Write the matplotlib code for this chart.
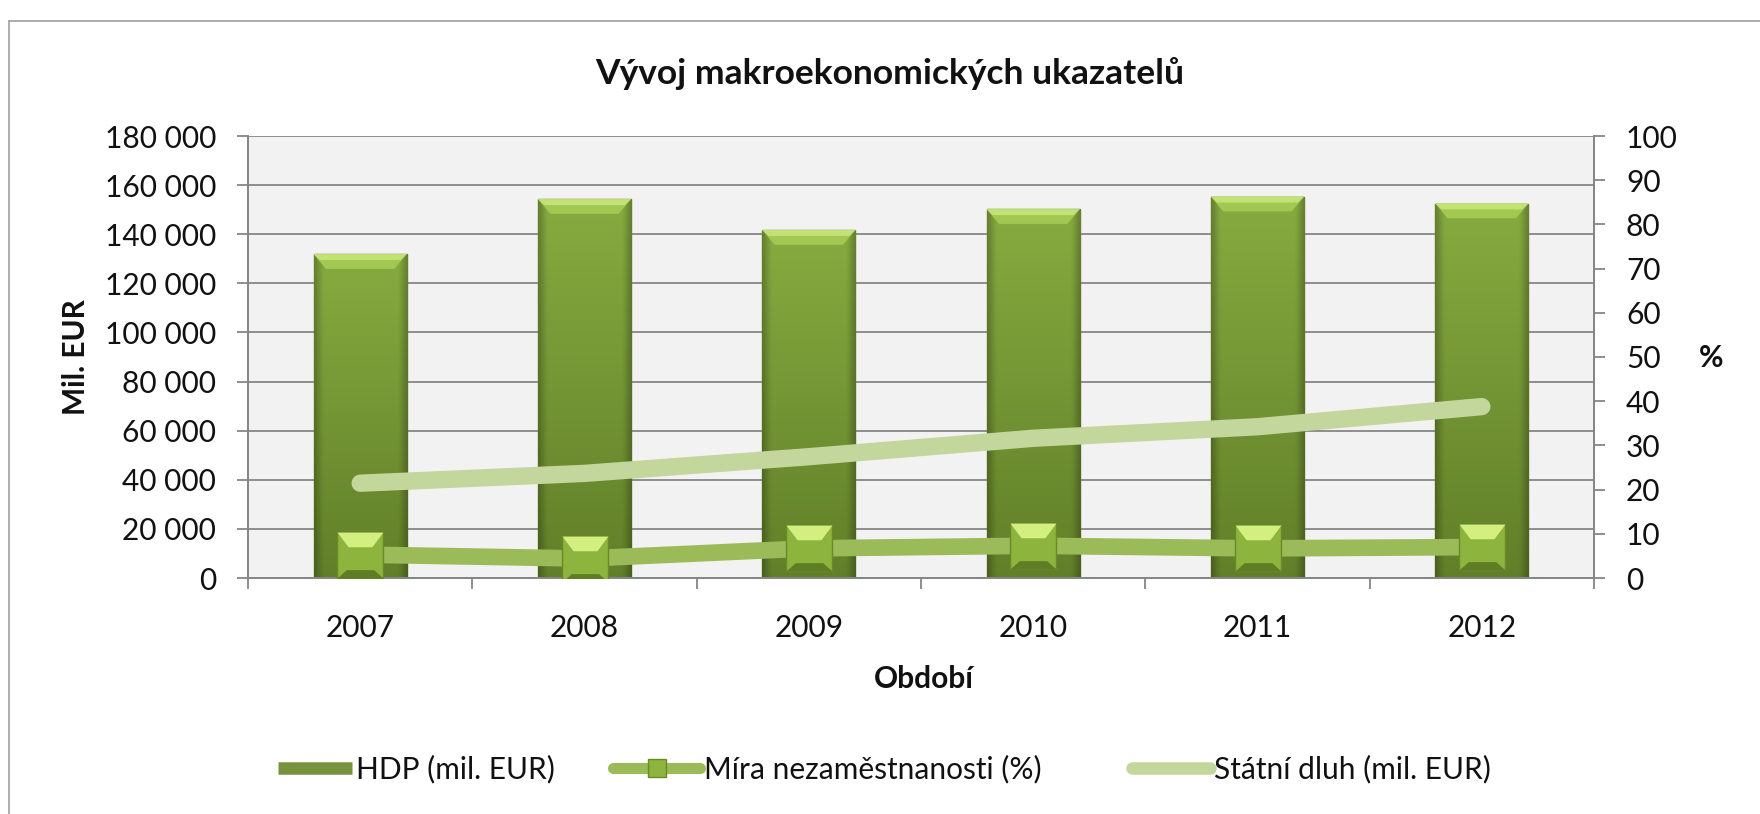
import numpy as np
import matplotlib
matplotlib.use('Agg')
import matplotlib.pyplot as plt
from matplotlib.lines import Line2D
from matplotlib.path import Path

# ---------------- data ----------------
years = ['2007', '2008', '2009', '2010', '2011', '2012']
hdp = [131900, 154300, 141700, 150200, 155300, 152500]      # HDP (mil. EUR)
nezam = [5.3, 4.4, 6.7, 7.3, 6.7, 7.0]                       # Míra nezaměstnanosti (%)
dluh = [38600, 42600, 49400, 56900, 61600, 69800]            # Státní dluh (mil. EUR)

title = 'Vývoj makroekonomických ukazatelů'
ylabel_left = 'Mil. EUR'
ylabel_right = '%'
xlabel = 'Období'
legend_labels = ['HDP (mil. EUR)', 'Míra nezaměstnanosti (%)', 'Státní dluh (mil. EUR)']
left_ticks = list(range(0, 180001, 20000))
right_ticks = list(range(0, 101, 10))

# ---------------- style ----------------
plt.rcParams['font.family'] = ['Lato', 'DejaVu Sans']
plt.rcParams['text.color'] = '#111111'
plt.rcParams['xtick.labelcolor'] = '#111111'
plt.rcParams['ytick.labelcolor'] = '#111111'
FS = 21.5
GRID = '#868686'
BAR = '#76923c'
BAR_EDGE = '#5b7526'
BEVEL = '#a3c852'
UNEMP = '#9bbb59'
DEBT = '#c3d69b'

W, H = 1760, 814
fig = plt.figure(figsize=(W / 100, H / 100), dpi=100)


def fx(px):
    return px / W


def fy(py):
    return 1 - py / H


ax = fig.add_axes([fx(248), fy(578), fx(1594) - fx(248), fy(136) - fy(578)])
ax.set_facecolor('#f2f2f2')
x = np.arange(len(years))
bw = 0.415

bars = ax.bar(x, hdp, width=bw, color=BAR, edgecolor=BAR_EDGE, linewidth=1.0, zorder=2)

# gradient shading of each bar (clipped to the bar)
ny, nx = 60, 40
top_c = np.array([0.53, 0.67, 0.25])
bot_c = np.array([0.38, 0.50, 0.16])
tv = np.linspace(0, 1, ny)[:, None, None]
grad = top_c * (1 - tv) + bot_c * tv
hx = np.linspace(0, 1, nx)
hf = np.ones(nx)
hf = np.where(hx < 0.09, 0.76 + 0.24 * hx / 0.09, hf)
hf = np.where(hx > 0.91, 0.76 + 0.24 * (1 - hx) / 0.09, hf)
img = np.clip(grad * hf[None, :, None], 0, 1)
bev_h = 6000
ins = 0.055
for b, xi, v in zip(bars, x, hdp):
    x0, x1 = xi - bw / 2, xi + bw / 2
    im = ax.imshow(img, extent=(x0, x1, 0, v), aspect='auto', zorder=2.1,
                   interpolation='bilinear')
    im.set_clip_path(b)
    ax.fill([x0, x1, x1 - ins, x0 + ins], [v, v, v - bev_h, v - bev_h],
            color=BEVEL, zorder=2.2, lw=0)
    ax.fill([x0, x1, x1 - ins * 0.5, x0 + ins * 0.5],
            [v, v, v - bev_h * 0.4, v - bev_h * 0.4],
            color='#c2e276', zorder=2.25, lw=0)

# state debt line (left axis, mil. EUR)
ax.plot(x, dluh, color=DEBT, lw=12.5, solid_capstyle='round', zorder=3)

ax.set_xlim(-0.5, len(years) - 0.5)
ax.set_ylim(0, 180000)
ax.set_yticks(left_ticks)
ax.set_yticklabels([f'{v:,}'.replace(',', ' ') for v in left_ticks])
ax.yaxis.grid(True, color=GRID, lw=1.3, zorder=0)
ax.set_axisbelow(True)
ax.set_xticks(x)
ax.set_xticklabels(years)
ax.set_xticks(np.arange(-0.5, len(years), 1), minor=True)
ax.tick_params(axis='x', which='major', length=0, pad=26, labelsize=FS)
ax.tick_params(axis='x', which='minor', length=8, width=1.3, color=GRID)
ax.tick_params(axis='y', length=8, width=1.3, color=GRID, pad=15, labelsize=FS)
for s in ['left', 'right', 'bottom']:
    ax.spines[s].set_color(GRID)
    ax.spines[s].set_linewidth(1.3)
ax.spines['top'].set_visible(False)

# unemployment (right axis, %)
ax2 = ax.twinx()
ax2.set_ylim(0, 100)
ax2.set_yticks(right_ticks)
ax2.tick_params(axis='y', length=8, width=1.3, color=GRID, pad=15, labelsize=FS)
for s in ['left', 'right', 'bottom']:
    ax2.spines[s].set_color(GRID)
    ax2.spines[s].set_linewidth(1.3)
ax2.spines['top'].set_visible(False)

ax2.plot(x, nezam, color=UNEMP, lw=12, solid_capstyle='butt', zorder=3)
ax2.plot(x, nezam, ls='none', marker='s', ms=33, mfc='#8db43c', mec='#6a8a2a',
         mew=1.0, zorder=4)
top_bev = Path([(-0.5, 0.5), (0.5, 0.5), (0.26, 0.18), (-0.26, 0.18), (-0.5, 0.5)])
bot_bev = Path([(-0.5, -0.5), (0.5, -0.5), (0.3, -0.32), (-0.3, -0.32), (-0.5, -0.5)])
ax2.plot(x, nezam, ls='none', marker=top_bev, ms=33, mfc='#d3ef7f', mec='none', zorder=5)
ax2.plot(x, nezam, ls='none', marker=bot_bev, ms=33, mfc='#5f7d25', mec='none', zorder=5)

# ---------------- texts ----------------
fig.text(fx(890), fy(74), title, fontsize=25.5, fontweight='bold', ha='center', va='center')
fig.text(fx(76), fy(357), ylabel_left, fontsize=FS, fontweight='bold', rotation=90,
         ha='center', va='center')
fig.text(fx(1711), fy(358), ylabel_right, fontsize=FS, fontweight='bold',
         ha='center', va='center')
fig.text(fx(924), fy(679), xlabel, fontsize=FS, fontweight='bold', ha='center', va='center')

# ---------------- legend ----------------
em = FS * 100 / 72
h1 = Line2D([], [], color=BAR, lw=9, solid_capstyle='butt')
h2 = Line2D([], [], color=UNEMP, lw=8, solid_capstyle='round', marker='s', ms=13,
            mfc='#8db43c', mec='#6a8a2a')
h3 = Line2D([], [], color=DEBT, lw=9, solid_capstyle='round')
for h, lab, xpos, hl in [(h1, legend_labels[0], 278, 74),
                         (h2, legend_labels[1], 613, 87),
                         (h3, legend_labels[2], 1132, 78)]:
    leg = fig.legend(handles=[h], labels=[lab], loc='center left',
                     bbox_to_anchor=(fx(xpos), fy(769)), frameon=False,
                     handlelength=hl / em, handletextpad=0.12, borderpad=0,
                     borderaxespad=0, fontsize=FS, numpoints=1)

# ---------------- chart frame ----------------
fig.add_artist(Line2D([fx(9), fx(9)], [fy(21), 0], color='#a0a0a0', lw=1.2))
fig.add_artist(Line2D([fx(9), 1], [fy(21), fy(21)], color='#a0a0a0', lw=1.2))

fig.savefig('out.png', dpi=100)
